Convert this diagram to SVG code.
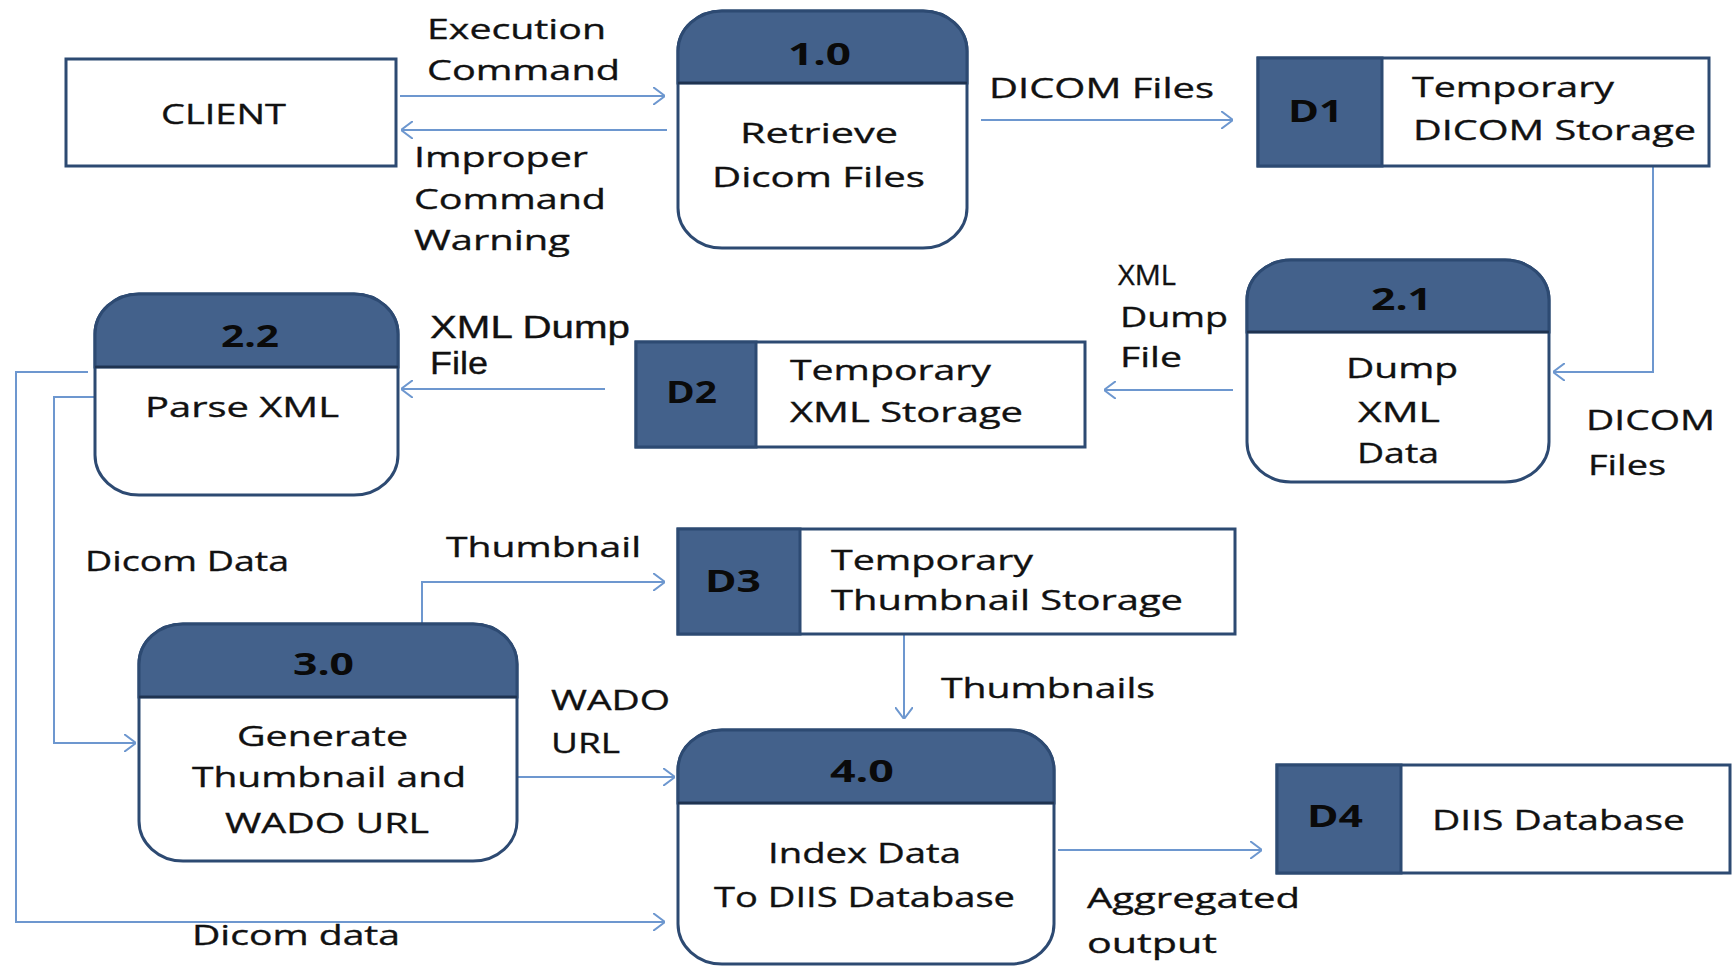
<svg xmlns="http://www.w3.org/2000/svg" width="1735" height="966" viewBox="0 0 1735 966">
  <style>
    .box { fill: #ffffff; stroke: #2d4a72; stroke-width: 3; }
    .hdr { fill: #43618b; stroke: #2d4a72; stroke-width: 3; }
    .div { stroke: #1f3350; stroke-width: 2.5; }
    .flow { fill: none; stroke: #6d97cf; stroke-width: 2; marker-end: url(#arr); }
    text { font-family: "Open Sans", "Liberation Sans", sans-serif; font-size: 28px; fill: #111111; stroke: #111111; stroke-width: 0.35; }
    .num { font-weight: bold; font-size: 30px; fill: #0a0a0a; stroke: none; }
    .tight { font-family: "Liberation Sans", "Open Sans", sans-serif; font-size: 31px; }
  </style>
  <defs>
    <marker id="arr" viewBox="0 0 12 18" refX="12" refY="9" markerWidth="12" markerHeight="18" markerUnits="userSpaceOnUse" orient="auto">
      <path d="M0,0 L12,9 L0,18" fill="none" stroke="#6d97cf" stroke-width="2"/>
    </marker>
  </defs>
  <rect width="1735" height="966" fill="#ffffff"/>

  <!-- data flows -->
  <g id="connectors">
    <path class="flow" d="M400,96 H665"/>
    <path class="flow" d="M667,130 H401"/>
    <path class="flow" d="M981,120 H1233"/>
    <path class="flow" d="M1653,167 V372 H1553"/>
    <path class="flow" d="M1233,390 H1104"/>
    <path class="flow" d="M605,389 H401"/>
    <path class="flow" d="M88,372 H16 V922 H665"/>
    <path class="flow" d="M97,397 H54 V743 H136"/>
    <path class="flow" d="M422,624 V582 H665"/>
    <path class="flow" d="M518,777 H675"/>
    <path class="flow" d="M904,635 V719"/>
    <path class="flow" d="M1058,850 H1262"/>

    <text x="427" y="39" textLength="179" lengthAdjust="spacingAndGlyphs">Execution</text>
    <text x="427" y="80" textLength="193" lengthAdjust="spacingAndGlyphs">Command</text>
    <text x="414" y="167" textLength="174" lengthAdjust="spacingAndGlyphs">Improper</text>
    <text x="414" y="209" textLength="192" lengthAdjust="spacingAndGlyphs">Command</text>
    <text x="414" y="250" textLength="156" lengthAdjust="spacingAndGlyphs">Warning</text>
    <text x="989" y="98" textLength="225" lengthAdjust="spacingAndGlyphs">DICOM Files</text>
    <text x="1586" y="430" textLength="129" lengthAdjust="spacingAndGlyphs">DICOM</text>
    <text x="1588" y="475" textLength="78" lengthAdjust="spacingAndGlyphs">Files</text>
    <text x="1118" y="285" textLength="58" lengthAdjust="spacingAndGlyphs">XML</text>
    <text x="1120" y="327" textLength="108" lengthAdjust="spacingAndGlyphs">Dump</text>
    <text x="1120" y="367" textLength="62" lengthAdjust="spacingAndGlyphs">File</text>
    <text class="tight" x="430" y="338" textLength="200" lengthAdjust="spacingAndGlyphs">XML Dump</text>
    <text class="tight" x="430" y="374" textLength="58" lengthAdjust="spacingAndGlyphs">File</text>
    <text x="85" y="571" textLength="204" lengthAdjust="spacingAndGlyphs">Dicom Data</text>
    <text x="446" y="557" textLength="195" lengthAdjust="spacingAndGlyphs">Thumbnail</text>
    <text x="551" y="710" textLength="119" lengthAdjust="spacingAndGlyphs">WADO</text>
    <text x="551" y="753" textLength="69" lengthAdjust="spacingAndGlyphs">URL</text>
    <text x="192" y="945" textLength="208" lengthAdjust="spacingAndGlyphs">Dicom data</text>
    <text x="941" y="698" textLength="214" lengthAdjust="spacingAndGlyphs">Thumbnails</text>
    <text x="1087" y="908" textLength="213" lengthAdjust="spacingAndGlyphs">Aggregated</text>
    <text x="1087" y="953" textLength="130" lengthAdjust="spacingAndGlyphs">output</text>
  </g>

  <!-- external entity -->
  <g id="client">
    <rect class="box" x="66" y="59" width="330" height="107"/>
    <text x="161" y="124" font-size="32" textLength="125" lengthAdjust="spacingAndGlyphs">CLIENT</text>
  </g>

  <!-- process 1.0 -->
  <g id="p1">
    <rect class="box" x="678" y="11" width="289" height="237" rx="44" ry="40"/>
    <path class="hdr" d="M678,83 V51 A44,40 0 0 1 722,11 H923 A44,40 0 0 1 967,51 V83 Z"/>
    <line class="div" x1="678" y1="83" x2="967" y2="83"/>
    <text class="num" x="788" y="65" textLength="63" lengthAdjust="spacingAndGlyphs">1.0</text>
    <text x="740" y="143" textLength="158" lengthAdjust="spacingAndGlyphs">Retrieve</text>
    <text x="712" y="187" textLength="213" lengthAdjust="spacingAndGlyphs">Dicom Files</text>
  </g>

  <!-- data store D1 -->
  <g id="d1">
    <rect class="box" x="1258" y="58" width="451" height="108"/>
    <rect class="hdr" x="1258" y="58" width="124" height="108"/>
    <text class="num" x="1288" y="122" textLength="55" lengthAdjust="spacingAndGlyphs">D1</text>
    <text x="1412" y="97" textLength="202" lengthAdjust="spacingAndGlyphs">Temporary</text>
    <text x="1413" y="140" textLength="283" lengthAdjust="spacingAndGlyphs">DICOM Storage</text>
  </g>

  <!-- process 2.1 -->
  <g id="p21">
    <rect class="box" x="1247" y="260" width="302" height="222" rx="44" ry="40"/>
    <path class="hdr" d="M1247,332 V300 A44,40 0 0 1 1291,260 H1505 A44,40 0 0 1 1549,300 V332 Z"/>
    <line class="div" x1="1247" y1="332" x2="1549" y2="332"/>
    <text class="num" x="1371" y="310" textLength="61" lengthAdjust="spacingAndGlyphs">2.1</text>
    <text x="1346" y="378" textLength="112" lengthAdjust="spacingAndGlyphs">Dump</text>
    <text x="1358" y="422" textLength="82" lengthAdjust="spacingAndGlyphs">XML</text>
    <text x="1357" y="463" textLength="82" lengthAdjust="spacingAndGlyphs">Data</text>
  </g>

  <!-- data store D2 -->
  <g id="d2">
    <rect class="box" x="636" y="342" width="449" height="105"/>
    <rect class="hdr" x="636" y="342" width="120" height="105"/>
    <text class="num" x="666" y="403" textLength="51" lengthAdjust="spacingAndGlyphs">D2</text>
    <text x="790" y="380" textLength="201" lengthAdjust="spacingAndGlyphs">Temporary</text>
    <text x="790" y="422" textLength="233" lengthAdjust="spacingAndGlyphs">XML Storage</text>
  </g>

  <!-- process 2.2 -->
  <g id="p22">
    <rect class="box" x="95" y="294" width="303" height="201" rx="44" ry="40"/>
    <path class="hdr" d="M95,367 V334 A44,40 0 0 1 139,294 H354 A44,40 0 0 1 398,334 V367 Z"/>
    <line class="div" x1="95" y1="367" x2="398" y2="367"/>
    <text class="num" x="221" y="347" textLength="58" lengthAdjust="spacingAndGlyphs">2.2</text>
    <text x="145" y="417" textLength="194" lengthAdjust="spacingAndGlyphs">Parse XML</text>
  </g>

  <!-- data store D3 -->
  <g id="d3">
    <rect class="box" x="678" y="529" width="557" height="105"/>
    <rect class="hdr" x="678" y="529" width="122" height="105"/>
    <text class="num" x="705" y="592" textLength="56" lengthAdjust="spacingAndGlyphs">D3</text>
    <text x="831" y="570" textLength="202" lengthAdjust="spacingAndGlyphs">Temporary</text>
    <text x="831" y="610" textLength="352" lengthAdjust="spacingAndGlyphs">Thumbnail Storage</text>
  </g>

  <!-- process 3.0 -->
  <g id="p3">
    <rect class="box" x="139" y="624" width="378" height="237" rx="44" ry="40"/>
    <path class="hdr" d="M139,697 V664 A44,40 0 0 1 183,624 H473 A44,40 0 0 1 517,664 V697 Z"/>
    <line class="div" x1="139" y1="697" x2="517" y2="697"/>
    <text class="num" x="293" y="675" textLength="61" lengthAdjust="spacingAndGlyphs">3.0</text>
    <text x="237" y="746" textLength="171" lengthAdjust="spacingAndGlyphs">Generate</text>
    <text x="192" y="787" textLength="274" lengthAdjust="spacingAndGlyphs">Thumbnail and</text>
    <text x="225" y="833" textLength="204" lengthAdjust="spacingAndGlyphs">WADO URL</text>
  </g>

  <!-- process 4.0 -->
  <g id="p4">
    <rect class="box" x="678" y="730" width="376" height="234" rx="44" ry="40"/>
    <path class="hdr" d="M678,803 V770 A44,40 0 0 1 722,730 H1010 A44,40 0 0 1 1054,770 V803 Z"/>
    <line class="div" x1="678" y1="803" x2="1054" y2="803"/>
    <text class="num" x="830" y="782" textLength="64" lengthAdjust="spacingAndGlyphs">4.0</text>
    <text x="768" y="863" textLength="193" lengthAdjust="spacingAndGlyphs">Index Data</text>
    <text x="714" y="907" textLength="301" lengthAdjust="spacingAndGlyphs">To DIIS Database</text>
  </g>

  <!-- data store D4 -->
  <g id="d4">
    <rect class="box" x="1277" y="765" width="453" height="108"/>
    <rect class="hdr" x="1277" y="765" width="124" height="108"/>
    <text class="num" x="1307" y="827" textLength="56" lengthAdjust="spacingAndGlyphs">D4</text>
    <text x="1432" y="830" textLength="253" lengthAdjust="spacingAndGlyphs">DIIS Database</text>
  </g>
</svg>
